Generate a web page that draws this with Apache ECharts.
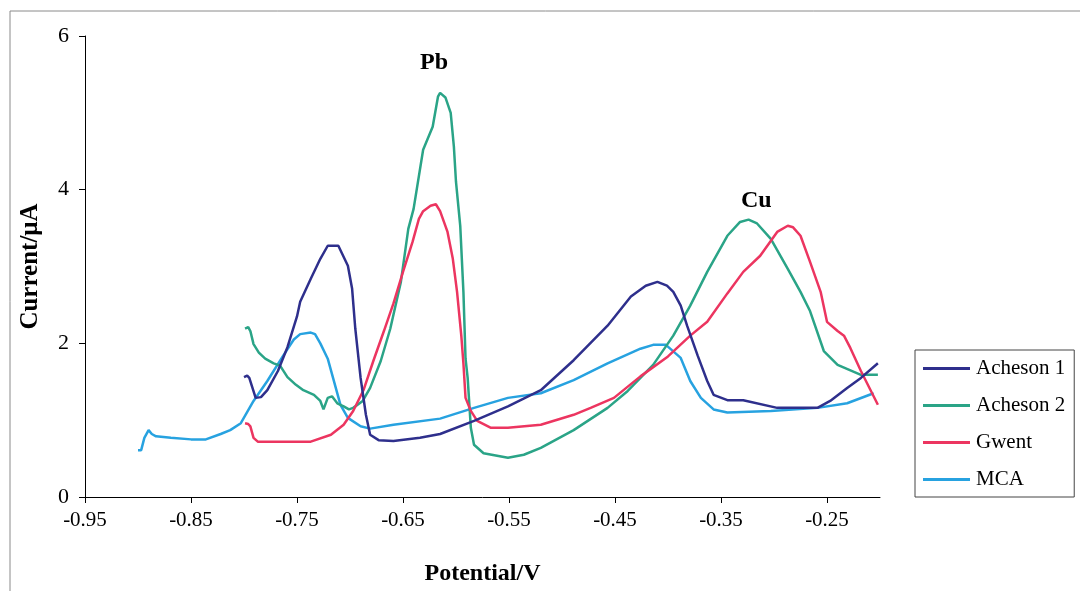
<!DOCTYPE html>
<html>
<head>
<meta charset="utf-8">
<script src="https://cdn.jsdelivr.net/npm/echarts@6/dist/echarts.min.js"></script>
<style>
html,body{margin:0;padding:0;background:#fff;}
#chart{width:1080px;height:591px;}
</style>
</head>
<body>
<div id="chart"></div>
<script>
// ---- Data (Potential / V, Current / uA) ----
const seriesNames = ['Acheson 1', 'Acheson 2', 'Gwent', 'MCA'];
const xTickValues = [-0.95, -0.85, -0.75, -0.65, -0.55, -0.45, -0.35, -0.25];
const yTickValues = [0, 2, 4, 6];

const acheson1 = [
  [-0.800,1.56],[-0.797,1.58],[-0.795,1.55],[-0.792,1.42],[-0.789,1.29],[-0.784,1.30],
  [-0.778,1.39],[-0.768,1.64],[-0.759,1.95],[-0.750,2.35],[-0.747,2.54],[-0.737,2.84],
  [-0.728,3.10],[-0.721,3.27],[-0.711,3.27],[-0.702,3.01],[-0.698,2.71],[-0.695,2.19],
  [-0.690,1.55],[-0.685,1.07],[-0.681,0.81],[-0.673,0.74],[-0.659,0.73],[-0.634,0.77],
  [-0.615,0.82],[-0.583,0.99],[-0.551,1.18],[-0.520,1.39],[-0.489,1.78],[-0.457,2.23],
  [-0.435,2.61],[-0.421,2.75],[-0.410,2.80],[-0.401,2.75],[-0.395,2.67],[-0.388,2.49],
  [-0.382,2.23],[-0.372,1.84],[-0.363,1.51],[-0.357,1.33],[-0.344,1.26],[-0.329,1.26],
  [-0.297,1.16],[-0.259,1.16],[-0.247,1.25],[-0.231,1.42],[-0.218,1.55],[-0.202,1.74]
];

const acheson2 = [
  [-0.799,2.19],[-0.796,2.21],[-0.794,2.16],[-0.791,1.99],[-0.786,1.88],[-0.780,1.80],
  [-0.772,1.74],[-0.766,1.71],[-0.759,1.56],[-0.751,1.46],[-0.744,1.39],[-0.734,1.33],
  [-0.728,1.25],[-0.725,1.14],[-0.721,1.29],[-0.717,1.31],[-0.712,1.22],[-0.706,1.18],
  [-0.701,1.14],[-0.697,1.16],[-0.688,1.25],[-0.681,1.42],[-0.671,1.77],[-0.662,2.19],
  [-0.652,2.80],[-0.645,3.49],[-0.640,3.75],[-0.631,4.52],[-0.622,4.82],[-0.617,5.21],
  [-0.615,5.26],[-0.610,5.20],[-0.605,5.00],[-0.602,4.56],[-0.600,4.10],[-0.596,3.53],
  [-0.593,2.67],[-0.591,1.80],[-0.589,1.55],[-0.586,0.90],[-0.583,0.68],[-0.574,0.57],
  [-0.551,0.51],[-0.536,0.55],[-0.520,0.64],[-0.489,0.87],[-0.457,1.16],[-0.438,1.38],
  [-0.414,1.72],[-0.395,2.10],[-0.379,2.49],[-0.363,2.93],[-0.344,3.40],[-0.332,3.58],
  [-0.324,3.61],[-0.316,3.56],[-0.303,3.36],[-0.287,2.97],[-0.275,2.67],[-0.266,2.42],
  [-0.253,1.90],[-0.240,1.72],[-0.218,1.59],[-0.202,1.59]
];

const gwent = [
  [-0.799,0.96],[-0.796,0.95],[-0.794,0.92],[-0.791,0.77],[-0.787,0.72],[-0.766,0.72],
  [-0.737,0.72],[-0.718,0.81],[-0.706,0.94],[-0.697,1.12],[-0.687,1.40],[-0.678,1.77],
  [-0.668,2.16],[-0.659,2.52],[-0.650,2.93],[-0.641,3.32],[-0.635,3.62],[-0.631,3.72],
  [-0.624,3.79],[-0.619,3.81],[-0.615,3.72],[-0.608,3.45],[-0.603,3.10],[-0.599,2.67],
  [-0.595,2.10],[-0.593,1.74],[-0.591,1.29],[-0.586,1.12],[-0.580,0.99],[-0.567,0.90],
  [-0.551,0.90],[-0.520,0.94],[-0.489,1.07],[-0.473,1.16],[-0.451,1.29],[-0.426,1.57],
  [-0.400,1.83],[-0.379,2.10],[-0.363,2.28],[-0.344,2.65],[-0.329,2.93],[-0.313,3.14],
  [-0.297,3.45],[-0.287,3.53],[-0.282,3.51],[-0.275,3.40],[-0.266,3.06],[-0.256,2.67],
  [-0.250,2.28],[-0.240,2.16],[-0.234,2.10],[-0.228,1.94],[-0.218,1.64],[-0.202,1.20]
];

const mca = [
  [-0.900,0.61],[-0.897,0.61],[-0.894,0.77],[-0.890,0.87],[-0.887,0.82],[-0.883,0.79],
  [-0.869,0.77],[-0.850,0.75],[-0.836,0.75],[-0.822,0.82],[-0.813,0.87],[-0.803,0.96],
  [-0.791,1.25],[-0.778,1.51],[-0.763,1.84],[-0.753,2.05],[-0.747,2.12],[-0.737,2.14],
  [-0.733,2.12],[-0.728,2.00],[-0.721,1.80],[-0.716,1.55],[-0.709,1.20],[-0.702,1.03],
  [-0.690,0.92],[-0.681,0.89],[-0.659,0.94],[-0.615,1.02],[-0.583,1.16],[-0.551,1.29],
  [-0.520,1.35],[-0.489,1.52],[-0.457,1.74],[-0.426,1.93],[-0.414,1.98],[-0.402,1.98],
  [-0.388,1.81],[-0.379,1.51],[-0.369,1.29],[-0.357,1.14],[-0.344,1.10],[-0.303,1.12],
  [-0.259,1.16],[-0.231,1.22],[-0.206,1.35]
];

const peakLabels = ['Pb', 'Cu'];

// ---- Chart ----
const colors = ['#2E2F8C', '#2AA487', '#EC3560', '#27A2E0'];
const seriesData = [acheson1, acheson2, gwent, mca];
const serif = '"Liberation Serif", "Times New Roman", serif';

const chart = echarts.init(document.getElementById('chart'), null, {renderer: 'canvas'});

chart.setOption({
  animation: false,
  backgroundColor: '#ffffff',
  color: colors,
  grid: {left: 85, top: 36, right: 200, bottom: 92, containLabel: false},
  xAxis: {
    type: 'value',
    min: -0.95,
    max: -0.2,
    interval: 0.1,
    name: 'Potential/V',
    nameLocation: 'middle',
    nameGap: 65,
    nameTextStyle: {fontFamily: serif, fontSize: 24, fontWeight: 'bold', color: '#000'},
    axisLine: {show: true, onZero: false, lineStyle: {color: '#000', width: 1}},
    axisTick: {show: true, inside: false, length: 6, customValues: xTickValues, lineStyle: {color: '#000'}},
    axisLabel: {
      customValues: xTickValues,
      fontFamily: serif, fontSize: 21, color: '#000', margin: 13,
      formatter: v => v.toFixed(2)
    },
    splitLine: {show: false}
  },
  yAxis: {
    type: 'value',
    min: 0,
    max: 6,
    interval: 2,
    name: 'Current/\u03bcA',
    nameLocation: 'middle',
    nameGap: 42,
    nameRotate: 90,
    nameTextStyle: {fontFamily: serif, fontSize: 25, fontWeight: 'bold', color: '#000'},
    axisLine: {show: true, lineStyle: {color: '#000', width: 1}},
    axisTick: {show: true, inside: false, length: 6, lineStyle: {color: '#000'}},
    axisLabel: {fontFamily: serif, fontSize: 22, color: '#000', margin: 16},
    splitLine: {show: false}
  },
  legend: {
    orient: 'vertical',
    left: 915,
    top: 350,
    padding: [8, 9, 7, 8],
    itemGap: 16,
    itemWidth: 47,
    itemHeight: 3,
    icon: 'rect',
    borderColor: '#444',
    borderWidth: 1,
    textStyle: {fontFamily: serif, fontSize: 21, color: '#000', padding: [0, 0, 0, 1]},
    data: seriesNames
  },
  series: seriesNames.map((n, i) => ({
    name: n,
    type: 'line',
    data: seriesData[i],
    showSymbol: false,
    symbol: 'none',
    smooth: false,
    lineStyle: {width: 2.5, color: colors[i]},
    itemStyle: {color: colors[i]},
    z: [4, 2, 3, 1][i]
  })),
  graphic: [
    {
      type: 'rect',
      shape: {x: 10, y: 11, width: 1100, height: 600},
      style: {fill: 'none', stroke: '#8a8a8a', lineWidth: 1},
      silent: true, z: -1
    },
    {
      type: 'text', left: 420, top: 51,
      style: {text: peakLabels[0], font: 'bold 24px ' + serif, fill: '#000'}
    },
    {
      type: 'text', left: 741, top: 189,
      style: {text: peakLabels[1], font: 'bold 24px ' + serif, fill: '#000'}
    }
  ]
});
</script>
</body>
</html>
